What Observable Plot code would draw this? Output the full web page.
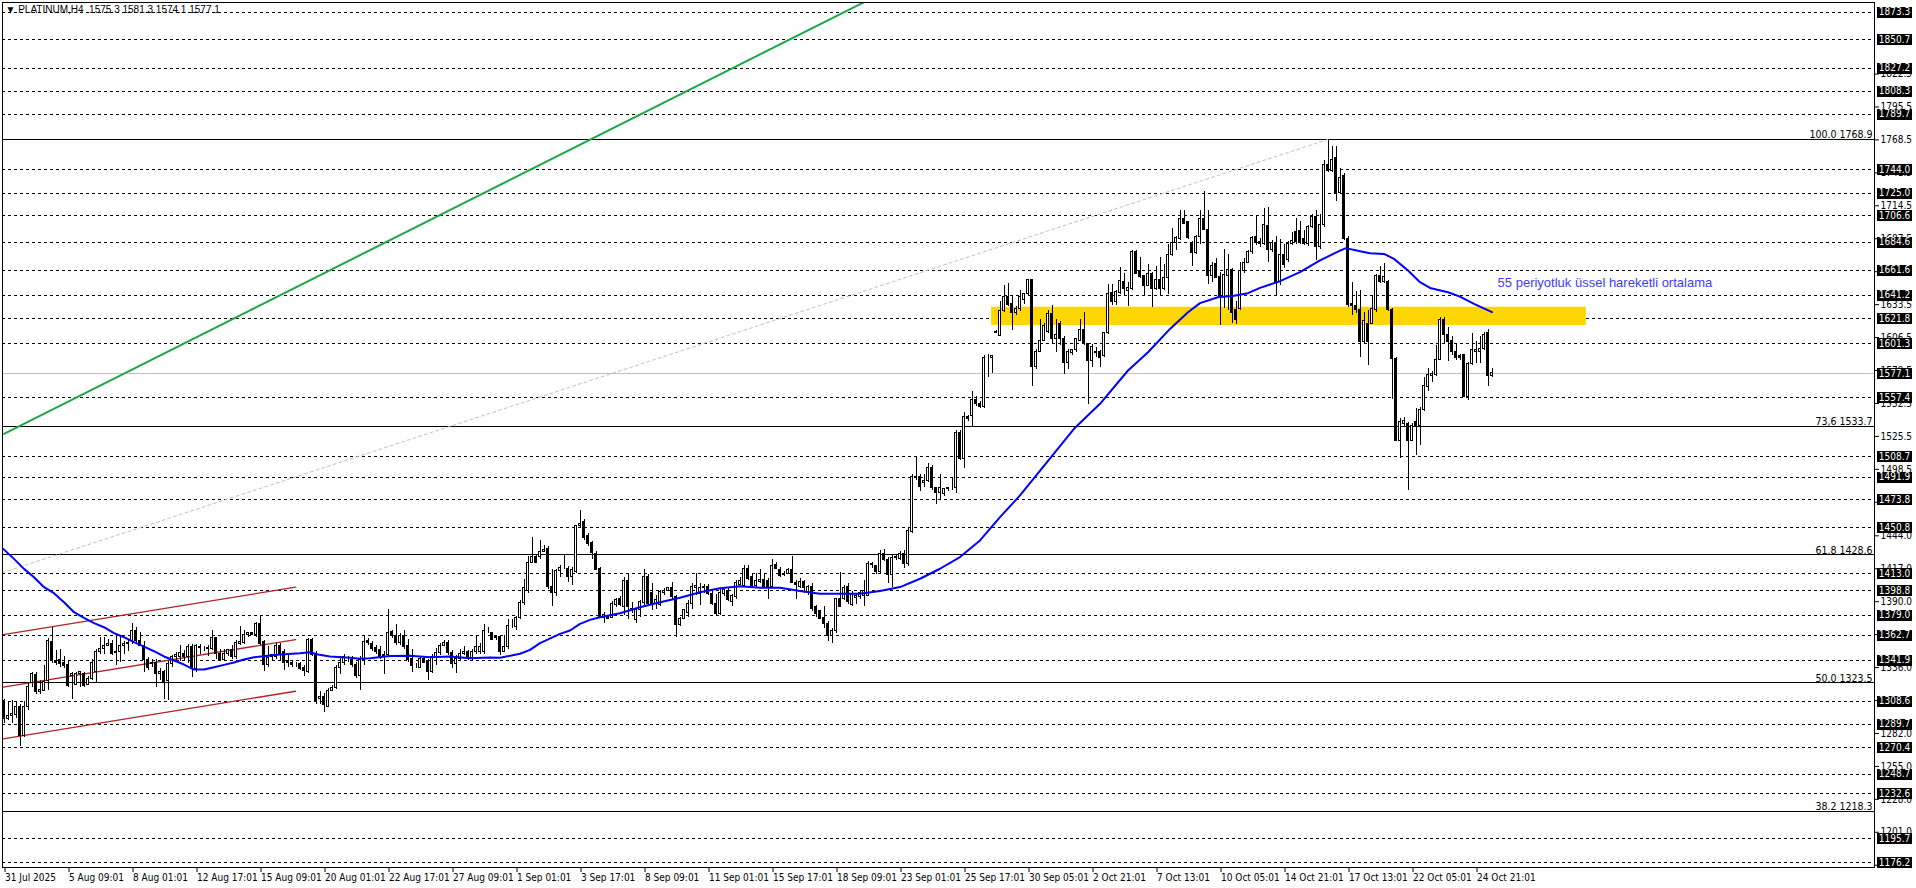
<!DOCTYPE html>
<html><head><meta charset="utf-8">
<script src="https://cdn.jsdelivr.net/npm/d3@7"></script>
<script src="https://cdn.jsdelivr.net/npm/@observablehq/plot@0.6"></script>
<style>html,body{margin:0;padding:0;background:#fff;overflow:hidden}</style>
</head><body><div id="chart"></div>
<script>
const FONT = '"Liberation Sans Narrow","DejaVu Sans Condensed","Liberation Sans",sans-serif';
const WIDE = '"Liberation Sans",Arial,sans-serif';

// ---- H4 candles (bar index = position in arrays) ----
const opens = [
1309,1294,1296,1297,1304,1280,1304,1323,1330,1316,1317,1325,1357,1341,1342,1340,
1338,1329,1322,1331,1331,1322,1327,1332,1349,1351,1354,1355,1348,1349,1354,1355,
1358,1366,1358,1354,1342,1339,1340,1331,1332,1325,1339,1345,1345,1347,1345,1353,
1335,1353,1351,1351,1351,1360,1347,1342,1347,1350,1345,1355,1356,1363,1364,1363,
1372,1357,1338,1345,1345,1354,1349,1341,1340,1338,1339,1336,1332,1359,1346,1310,
1312,1304,1317,1319,1336,1340,1343,1342,1338,1329,1342,1358,1355,1352,1350,1346,
1346,1365,1362,1356,1362,1354,1343,1337,1336,1343,1341,1332,1345,1348,1354,1356,
1348,1339,1343,1347,1349,1344,1349,1349,1349,1366,1364,1361,1361,1349,1353,1370,
1369,1377,1389,1399,1422,1427,1427,1431,1433,1402,1397,1415,1417,1417,1410,1414,
1452,1455,1444,1438,1429,1417,1377,1378,1377,1387,1392,1386,1407,1384,1375,1383,
1389,1410,1397,1388,1387,1397,1399,1401,1394,1371,1376,1381,1388,1401,1396,1401,
1402,1396,1388,1380,1396,1399,1390,1394,1404,1403,1417,1410,1403,1406,1408,1407,
1402,1420,1416,1412,1413,1416,1405,1402,1406,1398,1402,1386,1382,1377,1372,1362,
1366,1392,1392,1402,1387,1393,1394,1395,1395,1421,1419,1414,1429,1424,1412,1426,
1425,1429,1421,1447,1492,1492,1487,1489,1500,1483,1479,1478,1482,1483,1483,1528,
1507,1541,1542,1555,1552,1550,1590,1590,1610,1608,1628,1640,1634,1627,1630,1637,
1642,1654,1582,1595,1604,1611,1626,1605,1618,1605,1586,1594,1596,1604,1613,1601,
1587,1595,1595,1591,1610,1643,1636,1643,1652,1645,1646,1677,1661,1657,1649,1659,
1646,1654,1646,1655,1674,1684,1687,1704,1701,1684,1676,1689,1704,1695,1657,1667,
1656,1640,1657,1662,1629,1630,1661,1668,1677,1689,1685,1683,1698,1678,1684,1652,
1674,1670,1683,1693,1694,1687,1683,1697,1705,1681,1699,1748,1743,1754,1725,1739,
1687,1634,1632,1629,1603,1618,1618,1629,1657,1652,1652,1629,1589,1522,1536,1536,
1522,1537,1534,1547,1566,1575,1576,1588,1621,1609,1604,1595,1591,1592,1558,1585,
1595,1595,1597,1610,1575.3];
const highs = [
1310,1307,1309,1308,1306,1308,1324,1332,1332,1325,1338,1360,1369,1350,1351,1345,
1342,1332,1332,1332,1332,1329,1343,1351,1361,1361,1359,1358,1362,1362,1357,1359,
1372,1369,1365,1357,1344,1343,1343,1335,1334,1342,1346,1348,1354,1350,1355,1355,
1355,1355,1353,1354,1366,1361,1351,1351,1351,1354,1358,1370,1366,1365,1365,1373,
1379,1358,1353,1347,1356,1356,1351,1346,1342,1340,1340,1338,1360,1360,1349,1316,
1315,1319,1321,1338,1345,1347,1345,1345,1340,1345,1362,1360,1357,1354,1353,1349,
1384,1366,1371,1364,1366,1359,1351,1339,1345,1345,1343,1347,1352,1356,1358,1358,
1350,1346,1351,1353,1350,1351,1362,1356,1371,1369,1364,1362,1362,1362,1375,1375,
1378,1391,1408,1427,1443,1428,1440,1436,1435,1416,1416,1420,1428,1419,1418,1452,
1465,1457,1446,1439,1431,1418,1381,1379,1390,1393,1394,1410,1412,1389,1384,1391,
1416,1412,1405,1395,1399,1401,1402,1406,1395,1377,1384,1391,1405,1413,1405,1404,
1404,1398,1396,1401,1402,1401,1396,1407,1410,1420,1420,1412,1413,1416,1413,1409,
1425,1422,1418,1415,1417,1427,1407,1409,1407,1403,1405,1387,1383,1386,1374,1368,
1393,1414,1403,1405,1398,1397,1398,1407,1423,1422,1420,1432,1433,1426,1428,1428,
1431,1432,1450,1494,1509,1494,1494,1503,1502,1484,1494,1483,1484,1492,1530,1530,
1545,1543,1562,1558,1554,1592,1593,1592,1612,1636,1649,1651,1641,1632,1645,1642,
1654,1654,1597,1621,1618,1629,1633,1621,1620,1607,1597,1597,1605,1621,1627,1601,
1601,1598,1596,1611,1650,1650,1645,1664,1659,1652,1678,1678,1672,1657,1666,1660,
1665,1672,1666,1683,1696,1689,1711,1711,1702,1685,1690,1711,1726,1711,1668,1671,
1660,1679,1675,1663,1636,1668,1671,1678,1689,1706,1688,1712,1713,1686,1689,1687,
1683,1685,1693,1704,1702,1694,1698,1707,1711,1707,1752,1769,1763,1763,1745,1741,
1689,1652,1644,1645,1627,1629,1641,1658,1665,1667,1653,1630,1590,1540,1541,1537,
1536,1548,1549,1574,1581,1579,1600,1623,1623,1615,1607,1601,1593,1593,1586,1610,
1603,1607,1611,1613,1581.3];
const lows = [
1290,1293,1290,1294,1271,1279,1301,1320,1314,1314,1317,1317,1339,1338,1336,1335,
1320,1310,1321,1320,1320,1321,1325,1324,1347,1347,1353,1346,1338,1340,1347,1349,
1355,1355,1354,1332,1334,1336,1320,1325,1310,1309,1336,1340,1341,1341,1339,1328,
1332,1347,1349,1345,1350,1343,1342,1342,1345,1343,1343,1354,1355,1361,1362,1361,
1354,1333,1336,1342,1343,1342,1334,1336,1336,1336,1334,1329,1331,1345,1306,1306,
1299,1304,1316,1318,1330,1338,1340,1336,1327,1317,1338,1354,1349,1347,1343,1330,
1345,1360,1354,1354,1351,1340,1332,1335,1336,1340,1325,1331,1338,1346,1353,1346,
1335,1331,1342,1346,1342,1342,1347,1347,1347,1364,1358,1358,1346,1349,1351,1368,
1366,1375,1387,1397,1422,1421,1425,1431,1400,1386,1394,1410,1416,1406,1403,1413,
1451,1440,1435,1425,1416,1377,1372,1375,1376,1385,1386,1379,1375,1380,1372,1377,
1387,1387,1383,1384,1386,1395,1398,1391,1361,1370,1375,1377,1384,1395,1387,1397,
1395,1387,1379,1379,1394,1390,1386,1392,1403,1402,1407,1401,1401,1405,1401,1392,
1401,1416,1410,1411,1412,1405,1392,1401,1397,1395,1382,1377,1375,1368,1357,1356,
1364,1385,1391,1388,1386,1388,1392,1386,1394,1417,1412,1413,1423,1405,1402,1424,
1424,1417,1419,1446,1489,1480,1484,1488,1481,1470,1474,1476,1480,1481,1479,1506,
1499,1538,1533,1550,1548,1548,1574,1577,1610,1608,1627,1632,1612,1625,1628,1634,
1641,1566,1580,1594,1603,1610,1601,1594,1600,1576,1580,1592,1594,1603,1600,1552,
1582,1590,1582,1590,1609,1633,1633,1642,1641,1632,1645,1659,1655,1640,1648,1631,
1645,1641,1645,1642,1673,1678,1686,1700,1687,1665,1675,1683,1694,1650,1652,1655,
1616,1630,1629,1618,1617,1629,1659,1667,1675,1682,1680,1682,1668,1676,1641,1649,
1663,1668,1682,1683,1683,1682,1681,1696,1670,1679,1697,1742,1742,1718,1724,1686,
1631,1625,1626,1590,1601,1584,1618,1627,1651,1651,1628,1556,1521,1507,1533,1481,
1521,1510,1518,1546,1562,1570,1575,1588,1601,1587,1592,1588,1588,1558,1555,1584,
1585,1585,1596,1566,1574.1];
const closes = [
1294,1296,1298,1304,1280,1304,1320,1331,1316,1318,1324,1358,1342,1340,1339,1337,
1321,1331,1331,1332,1321,1327,1340,1349,1351,1354,1355,1347,1349,1354,1355,1356,
1366,1358,1354,1342,1336,1340,1331,1332,1324,1339,1345,1346,1348,1345,1353,1335,
1354,1352,1351,1352,1360,1347,1342,1347,1350,1345,1356,1357,1363,1364,1363,1372,
1355,1338,1344,1346,1354,1347,1340,1340,1338,1338,1335,1333,1359,1346,1309,1312,
1305,1317,1319,1336,1340,1345,1343,1338,1329,1342,1357,1356,1351,1349,1345,1345,
1364,1362,1356,1362,1353,1342,1337,1337,1343,1340,1332,1345,1348,1354,1356,1348,
1339,1343,1347,1349,1344,1349,1353,1353,1366,1366,1359,1360,1349,1353,1370,1370,
1377,1389,1401,1422,1427,1422,1431,1432,1402,1397,1415,1418,1417,1410,1416,1452,
1454,1442,1437,1430,1416,1377,1379,1376,1388,1391,1387,1407,1386,1383,1383,1390,
1410,1388,1387,1391,1398,1399,1401,1394,1371,1376,1383,1388,1402,1403,1401,1402,
1396,1388,1380,1397,1400,1391,1395,1405,1407,1417,1409,1403,1407,1408,1402,1402,
1419,1417,1411,1413,1416,1405,1404,1406,1401,1402,1384,1380,1376,1372,1362,1366,
1392,1386,1401,1390,1396,1395,1397,1399,1421,1420,1414,1429,1424,1412,1426,1427,
1429,1421,1448,1492,1491,1484,1489,1500,1483,1479,1483,1482,1483,1483,1528,1507,
1541,1540,1555,1552,1550,1590,1590,1591,1611,1628,1640,1633,1627,1630,1640,1642,
1654,1582,1595,1604,1616,1626,1605,1609,1605,1586,1595,1596,1605,1613,1601,1587,
1599,1594,1590,1610,1642,1636,1644,1653,1646,1647,1677,1659,1656,1649,1659,1646,
1654,1646,1655,1674,1684,1688,1704,1700,1688,1676,1689,1704,1695,1657,1665,1655,
1640,1658,1662,1627,1621,1661,1668,1677,1688,1684,1683,1699,1678,1684,1652,1674,
1666,1683,1686,1685,1685,1683,1697,1705,1681,1699,1748,1743,1752,1725,1737,1687,
1633,1632,1629,1603,1620,1603,1630,1657,1652,1656,1629,1589,1522,1537,1538,1522,
1534,1534,1547,1567,1576,1577,1588,1621,1609,1603,1595,1590,1590,1558,1585,1596,
1596,1597,1609,1575,1577.1];

// ---- 55-period EMA ----
const emaBars = [-0.2,2.5,5,7.5,10,12.5,15,17.5,20,22.5,25,27.5,30,32.5,35,37.5,40,42.5,45,47.5,50,52.5,55,57.5,60,62.5,69,74,76.5,78.5,81.5,86.5,89,91.5,96.5,101.5,106.5,111.5,116.5,121.5,124,129,131.5,134,139,141.5,144,146.5,149,154,159,164,169,174,179,184,189,194,199,204,209,214,219,224,229,234,239,244,249,254,267.5,274,281,286,291.5,296,299,303.5,307.5,311,314,319,324,329,334,335.5,339,341.5,345,347.5,351,354,356.5,361,364,367.5,372];
const emaVals = [1433.3,1425.1,1416.9,1410.1,1401.9,1397,1389.6,1381.4,1376.7,1372.4,1369.1,1364.2,1360.9,1356.8,1353.2,1349.4,1345.1,1341.8,1338.5,1334.4,1334.4,1336.3,1338.2,1340.1,1342.6,1344.5,1346.7,1347.8,1348.6,1346.7,1345.1,1344,1343.2,1343.7,1345.4,1345.6,1344.5,1345.1,1343.7,1344.3,1344,1347.3,1350.5,1356,1363.6,1366.4,1371.8,1375.1,1377.3,1380.6,1385.5,1389.6,1393.2,1397.8,1401.1,1402.7,1401.4,1401.4,1398.7,1396.5,1396.5,1396.5,1398.7,1402,1408.8,1417,1426.6,1440.2,1459.3,1477.1,1531.7,1552.2,1579.5,1594.5,1613.6,1627.3,1634.7,1639.6,1640.7,1642.9,1647.2,1652.7,1660.1,1669.7,1677.8,1679.8,1677.3,1675.7,1675.1,1671,1661.5,1651.9,1647.2,1643.7,1640.1,1634.1,1627.3];

// ---- drawn objects ----
const greenTrendBars = [0, 220];
const greenTrendPrices = [1527.6, 1889.6];
const channelBars = [-0.2, 72.9];
const channelUpper = [1363.1, 1401.9];
const channelMid = [1319.9, 1359.0];
const channelLower = [1277.6, 1316.6];
const fibDiagBars = [-0.4, 331];
const fibDiagPrices = [1413.8, 1768.9];
const fibPct = ["100.0", "73,6", "61.8", "50.0", "38.2"];
const fibLevels = [1768.9, 1533.7, 1428.6, 1323.5, 1218.3];
const zoneBars = [246.9, 395.6];
const zonePrices = [1616.4, 1631.4];
const bidPrice = 1577.1;
const dashedLevels = [1873.3,1850.7,1827.2,1808.3,1789.7,1744.0,1725.0,1706.6,1684.6,1661.6,1641.2,1621.8,1601.3,1557.4,1508.7,1491.9,1473.8,1450.8,1413.0,1398.8,1379.0,1362.7,1341.9,1308.6,1289.7,1270.4,1248.7,1232.6,1195.7,1176.2];
const boxedLevels = dashedLevels.concat([bidPrice]);
const yTickVals = [1822.5,1795.5,1768.5,1741.5,1714.5,1687.5,1660.5,1633.5,1606.5,1579.5,1552.5,1525.5,1498.5,1471.5,1444.0,1417.0,1390.0,1363.0,1336.0,1309.0,1282.0,1255.0,1228.0,1201.0,1174.0];
const xTickBars = [0,16,32,48,64,80,96,112,128,144,160,176,192,208,224,240,256,272,288,304,320,336,352,368];
const xLabels = ["31 Jul 2025","5 Aug 09:01","8 Aug 01:01","12 Aug 17:01","15 Aug 09:01","20 Aug 01:01","22 Aug 17:01","27 Aug 09:01","1 Sep 01:01","3 Sep 17:01","8 Sep 09:01","11 Sep 01:01","15 Sep 17:01","18 Sep 09:01","23 Sep 01:01","25 Sep 17:01","30 Sep 05:01","2 Oct 21:01","7 Oct 13:01","10 Oct 05:01","14 Oct 21:01","17 Oct 13:01","22 Oct 05:01","24 Oct 21:01"];
const titleText = "\u25BC PLATINUM,H4  1575.3 1581.3 1574.1 1577.1";
const emaNote = {bar: 373.4, price: 1651.1, text: "55 periyotluk üssel hareketli ortalama"};

// ---- tables built from the arrays ----
const bars = opens.map((o, i) => ({i, o, h: highs[i], l: lows[i], c: closes[i]}));
const ema = emaBars.map((b, k) => ({b, v: emaVals[k]}));
const seg = (bs, ps) => bs.map((b, k) => ({b, p: ps[k]}));

const W = 1916, H = 888, ML = 2, MR = 42, MT = 2, MB = 21;
const chart = Plot.plot({
  width: W, height: H,
  marginLeft: ML, marginRight: MR, marginTop: MT, marginBottom: MB,
  x: {domain: [-0.375, 467.625], axis: null},
  y: {domain: [1172.13, 1881.15], axis: null},
  style: {background: "white", fontFamily: FONT, fontSize: "10px", overflow: "visible"},
  marks: [
    Plot.ruleY(dashedLevels, {stroke: "black", strokeDasharray: "3,3", strokeWidth: 1, shapeRendering: "crispEdges"}),
    Plot.ruleY(fibLevels, {stroke: "black", strokeWidth: 1, shapeRendering: "crispEdges"}),
    Plot.ruleY([bidPrice], {stroke: "#c0c0c0", strokeWidth: 1, shapeRendering: "crispEdges"}),
    Plot.rect([0], {x1: zoneBars[0], x2: zoneBars[1], y1: zonePrices[0], y2: zonePrices[1], fill: "#FFD700", clip: true}),
    Plot.line(seg(fibDiagBars, fibDiagPrices), {x: "b", y: "p", stroke: "#c0c0c0", strokeWidth: 1, strokeDasharray: "3,3", clip: true}),
    Plot.line(seg(greenTrendBars, greenTrendPrices), {x: "b", y: "p", stroke: "#1ea64a", strokeWidth: 2, clip: true}),
    Plot.line(seg(channelBars, channelUpper), {x: "b", y: "p", stroke: "#b22222", strokeWidth: 1.3, clip: true}),
    Plot.line(seg(channelBars, channelMid), {x: "b", y: "p", stroke: "#b22222", strokeWidth: 1.3, clip: true}),
    Plot.line(seg(channelBars, channelLower), {x: "b", y: "p", stroke: "#b22222", strokeWidth: 1.3, clip: true}),
    Plot.ruleX(bars, {x: "i", y1: "l", y2: "h", stroke: "black", strokeWidth: 1, shapeRendering: "crispEdges"}),
    Plot.rect(bars, {x1: d => d.i - 0.3, x2: d => d.i + 0.3, y1: "o", y2: "c",
      fill: d => d.c >= d.o ? "white" : "black", stroke: "black", strokeWidth: 1, shapeRendering: "crispEdges"}),
    Plot.line(ema, {x: "b", y: "v", stroke: "#0000ff", strokeWidth: 2, clip: true}),
    Plot.text([emaNote], {x: "bar", y: "price", text: "text", textAnchor: "start", fill: "#3c3cff", fontSize: 13, fontFamily: WIDE}),
    Plot.text(fibLevels, {y: d => d, frameAnchor: "right", dx: -2, dy: -1, textAnchor: "end", lineAnchor: "bottom",
      text: (d, k) => fibPct[k] + " " + d.toFixed(1), fill: "black", fontSize: 10.5}),
    Plot.text([titleText], {frameAnchor: "top-left", dx: 3, dy: 3, lineAnchor: "top", textAnchor: "start", fill: "black", fontSize: 10, fontFamily: WIDE}),
    Plot.frame({stroke: "black", strokeWidth: 1, shapeRendering: "crispEdges"}),
    Plot.axisX({ticks: xTickBars, tickFormat: d => xLabels[xTickBars.indexOf(d)], tickSize: 5, tickPadding: 1,
      textAnchor: "start", dx: 1, fontSize: 10, fill: "black", stroke: "black"}),
    Plot.axisY({anchor: "right", ticks: yTickVals, tickFormat: d => d.toFixed(1), tickSize: 4, tickPadding: 2,
      fontSize: 10, fill: "black", stroke: "black"})
  ]
});
document.getElementById("chart").appendChild(chart);

// boxed price labels on the right axis, placed with the chart's own y scale
const ys = chart.scale("y");
const gx = W - MR;
const g = d3.select(chart).append("g").attr("font-family", FONT).attr("font-size", 10);
boxedLevels.forEach(v => {
  const yy = ys.apply(v);
  g.append("rect").attr("x", gx + 3).attr("y", Math.round(yy) - 5).attr("width", 35).attr("height", 11).attr("fill", "black");
  g.append("text").attr("x", gx + 20.5).attr("y", yy).attr("dy", "0.36em").attr("text-anchor", "middle")
    .attr("fill", "white").text(v.toFixed(1));
});
</script></body></html>
